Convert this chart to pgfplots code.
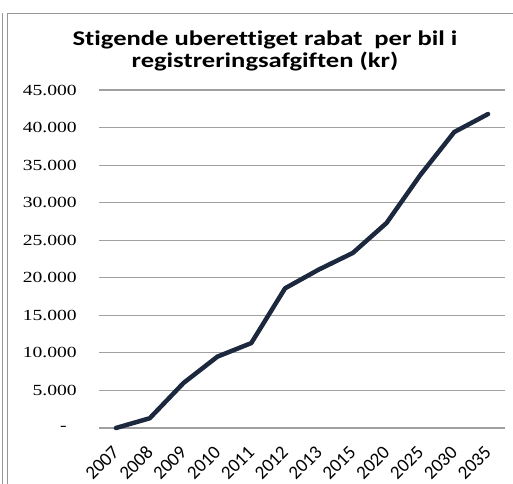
\documentclass[border=0pt]{standalone}
\usepackage{fontspec}
\usepackage{graphicx}
\usepackage{pgfplots}
\pgfplotsset{compat=1.18}
\setmainfont{Carlito}
\newfontfamily\carlito[Ligatures=NoCommon]{Carlito}
\newfontfamily\serifnum{Liberation Serif}
\definecolor{linecol}{RGB}{28,40,62}
\definecolor{gridcol}{RGB}{160,160,160}
\definecolor{framecol}{RGB}{150,150,150}
\newcommand{\yl}[1]{\scalebox{1.27}[1]{#1}}
\begin{document}
\begin{tikzpicture}
\useasboundingbox (0,0) rectangle (513bp,484bp);
\draw[framecol, line width=1bp] (2bp,0) -- (2bp,471bp);
\draw[framecol, line width=1bp] (7bp,0) -- (7bp,470bp) -- (513bp,470bp);
\node[align=center, font={\carlito\bfseries\fontsize{21}{22.5}\selectfont}] at (265bp,433bp)
  {\scalebox{1.27}[1]{Stigende uberettiget rabat\ \ per bil i}\\\scalebox{1.27}[1]{registreringsafgiften (kr)}};
\begin{axis}[
  at={(99bp,56bp)}, anchor=south west,
  scale only axis, width=406bp, height=338bp,
  xmin=-0.5, xmax=11.5, ymin=0, ymax=45000,
  scaled y ticks=false,
  axis line style={draw=none},
  major tick style={draw=none},
  ymajorgrids,
  major grid style={gridcol, line width=1.2bp},
  ytick={0,5000,10000,15000,20000,25000,30000,35000,40000,45000},
  yticklabels={\yl{-\hspace{8bp}},\yl{5.000},\yl{10.000},\yl{15.000},\yl{20.000},\yl{25.000},\yl{30.000},\yl{35.000},\yl{40.000},\yl{45.000}},
  yticklabel style={font={\serifnum\fontsize{15.5}{17}\selectfont}, anchor=east, inner sep=0pt, xshift=-22bp},
  xtick={0,...,11},
  xticklabels={2007,2008,2009,2010,2011,2012,2013,2015,2020,2025,2030,2035},
  xticklabel style={font={\carlito\fontsize{19}{21}\selectfont}, xshift=0bp, yshift=-21bp, rotate=45, anchor=east, inner sep=0pt},
  clip=false,
]
\addplot[linecol, line width=4.5bp, line join=round, line cap=round] coordinates {
  (0,0) (1,1300) (2,6000) (3,9500) (4,11300) (5,18600) (6,21100)
  (7,23300) (8,27300) (9,33700) (10,39400) (11,41800)
};
\end{axis}
\end{tikzpicture}
\end{document}
